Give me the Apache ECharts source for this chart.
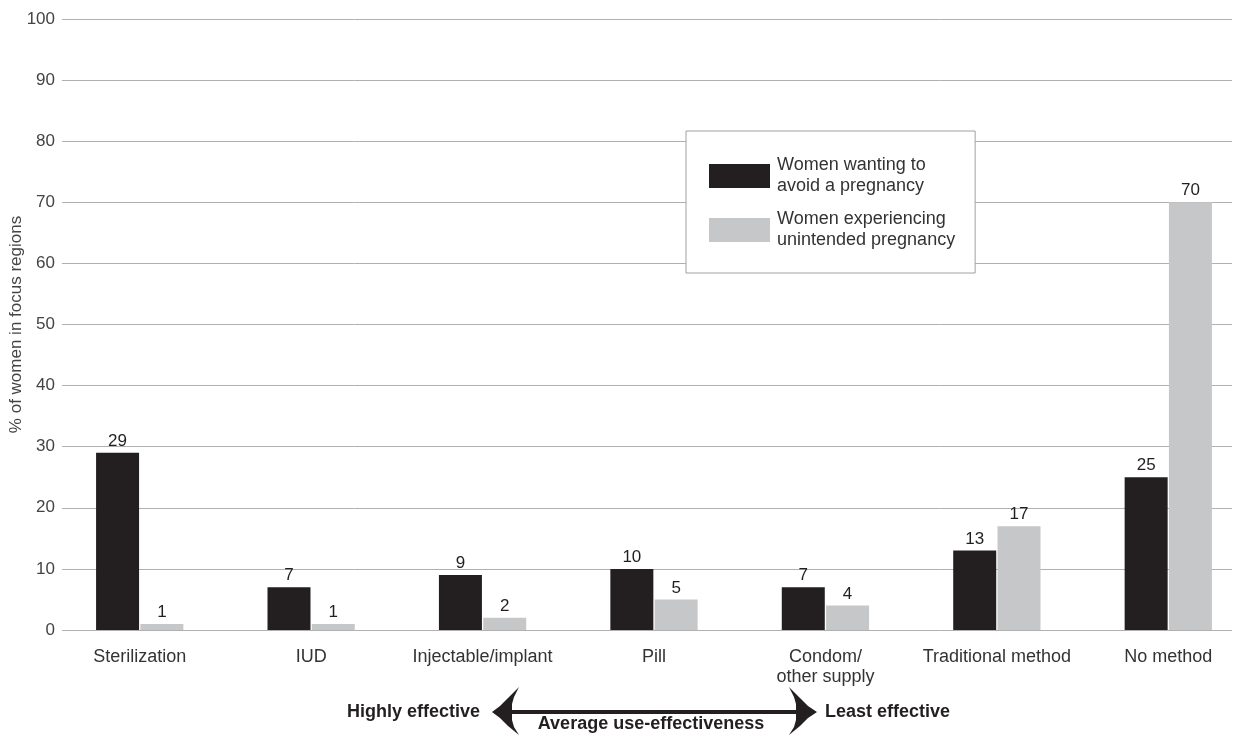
<!DOCTYPE html>
<html>
<head>
<meta charset="utf-8">
<script src="https://cdn.jsdelivr.net/npm/echarts@6/dist/echarts.min.js"></script>
<style>html,body{margin:0;padding:0;background:#fff}#c{width:1252px;height:736px}</style>
</head>
<body>
<div id="c"></div>
<script>
var categories = ['Sterilization', 'IUD', 'Injectable/implant', 'Pill', 'Condom/\nother supply', 'Traditional method', 'No method'];
var wanting = [29, 7, 9, 10, 7, 13, 25];
var experiencing = [1, 1, 2, 5, 4, 17, 70];
var seriesNames = ['Women wanting to\navoid a pregnancy', 'Women experiencing\nunintended pregnancy'];
var yTicks = [0, 10, 20, 30, 40, 50, 60, 70, 80, 90, 100];
var yTitle = '% of women in focus regions';
var arrowTexts = ['Highly effective', 'Average use-effectiveness', 'Least effective'];

var FONT = '"Liberation Sans", Arial, Helvetica, sans-serif';
var DARK = '#231f20', LIGHT = '#c6c7c8';
var chart = echarts.init(document.getElementById('c'), null, {renderer: 'canvas'});

var labelStyle = {show: true, position: 'top', distance: 3, fontSize: 17, color: '#231f20', fontFamily: FONT};

var arrowPoints = [
  [492,712],[500,706],[508,698],[519,687],[514,697],[512,704],[512,710],
  [796,710],[796,704],[794,697],[789,687],[800,698],[808,706],[817,712],
  [808,718],[800,726],[789,735],[794,727],[796,720],[796,714],
  [512,714],[512,720],[514,727],[519,735],[508,726],[500,718]
];

chart.setOption({
  animation: false,
  backgroundColor: '#fff',
  textStyle: {fontFamily: FONT},
  grid: [
    {left: 62, right: 20, top: 19, height: 611, containLabel: false, outerBoundsMode: 'none'},
    {left: 54, width: 1200, top: 19, height: 611, containLabel: false, outerBoundsMode: 'none'}
  ],
  legend: {
    orient: 'vertical', left: 686, top: 131,
    padding: [24, 20, 22, 23], itemGap: 12,
    itemWidth: 61, itemHeight: 24, icon: 'rect',
    backgroundColor: '#fff', borderColor: '#a0a0a0', borderWidth: 1,
    textStyle: {fontSize: 18, lineHeight: 21, color: '#333', fontFamily: FONT, padding: [0, 0, 0, 2]},
    data: seriesNames
  },
  xAxis: [
    {type: 'value', gridIndex: 0, show: false, min: 0, max: 1},
    {type: 'category', gridIndex: 1, data: categories,
     axisLine: {show: false}, axisTick: {show: false},
     axisLabel: {interval: 0, margin: 17, fontSize: 18, lineHeight: 20, color: '#333', fontFamily: FONT}}
  ],
  yAxis: [
    {type: 'value', gridIndex: 0, min: 0, max: 100, interval: 10,
     axisLine: {show: false}, axisTick: {show: false},
     splitLine: {show: true, lineStyle: {color: '#b0b0b0', width: 1}},
     axisLabel: {margin: 7, fontSize: 17, color: '#444', fontFamily: FONT},
     name: yTitle, nameLocation: 'middle', nameGap: 37, nameMoveOverlap: false,
     nameTextStyle: {fontSize: 17, color: '#444', fontFamily: FONT}},
    {type: 'value', gridIndex: 1, min: 0, max: 100, interval: 10, show: false, splitLine: {show: false}}
  ],
  series: [
    {name: seriesNames[0], type: 'bar', xAxisIndex: 1, yAxisIndex: 1, data: wanting,
     barWidth: 43, barGap: '3%', itemStyle: {color: DARK}, label: labelStyle},
    {name: seriesNames[1], type: 'bar', xAxisIndex: 1, yAxisIndex: 1, data: experiencing,
     barWidth: 43, barGap: '3%', itemStyle: {color: LIGHT}, label: labelStyle}
  ],
  graphic: [
    {type: 'polygon', shape: {points: arrowPoints}, style: {fill: DARK}},
    {type: 'text', x: 480, y: 712, style: {text: arrowTexts[0], fill: DARK, font: 'bold 18px ' + FONT, align: 'right', verticalAlign: 'middle'}},
    {type: 'text', x: 651, y: 724, style: {text: arrowTexts[1], fill: DARK, font: 'bold 18px ' + FONT, align: 'center', verticalAlign: 'middle'}},
    {type: 'text', x: 825, y: 712, style: {text: arrowTexts[2], fill: DARK, font: 'bold 18px ' + FONT, align: 'left', verticalAlign: 'middle'}}
  ]
});
</script>
</body>
</html>
